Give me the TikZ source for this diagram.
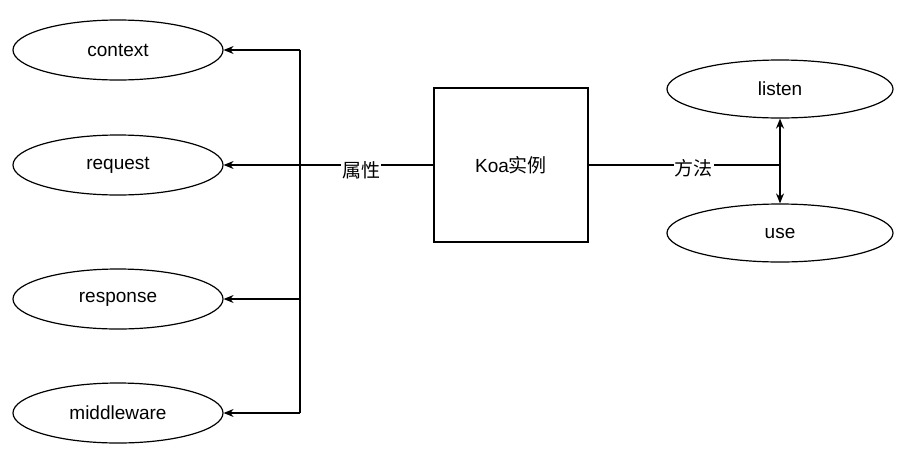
\documentclass[tikz,border=0pt]{standalone}
\usepackage{fontspec}
\setmainfont{Liberation Sans}
\newfontfamily\cjk{Noto Sans CJK SC}
\usetikzlibrary{arrows,arrows.meta,shapes,positioning}

\begin{document}
\begin{tikzpicture}[x=1pt,y=-1pt,line width=1.2pt,
  attr/.style={draw,ellipse,minimum width=210pt,minimum height=60pt,font=\fontsize{19}{22}\selectfont},
  lbl/.style={fill=white,inner sep=1pt,font=\fontsize{19}{22}\selectfont\cjk},
  >={Stealth[length=10pt,width=8pt]}]
\useasboundingbox (0,0) rectangle (918,464);
\node[draw,minimum width=154pt,minimum height=154pt,font=\fontsize{19}{22}\selectfont] (koa) at (511,165) {Koa{\cjk 实例}};
\node[attr] (context) at (118,50) {context};
\node[attr] (request) at (118,165) {request};
\node[attr] (response) at (118,299) {response};
\node[attr] (middleware) at (118,413) {middleware};
\node[attr,minimum width=226pt,minimum height=58pt] (listen) at (780,89) {listen};
\node[attr,minimum width=226pt,minimum height=58pt] (use) at (780,233) {use};
\coordinate (top) at (300,50);
\coordinate (bot) at (300,413);
\coordinate (mid) at (300,165);
\coordinate (rmid) at (780,165);
% left side
\draw (top) -- (bot);
\draw (koa.west) -- node[lbl,pos=0.54,yshift=-5pt] {属性} (mid);
\draw[->] (top) -- (context.east);
\draw[->] (mid) -- (request.east);
\draw[->] (300,299) -- (response.east);
\draw[->] (bot) -- (middleware.east);
% right side
\draw (koa.east) -- node[lbl,pos=0.55,yshift=-3pt] {方法} (rmid);
\draw[<->,line width=1.6pt] (listen.south) -- (use.north);
\end{tikzpicture}
\end{document}
